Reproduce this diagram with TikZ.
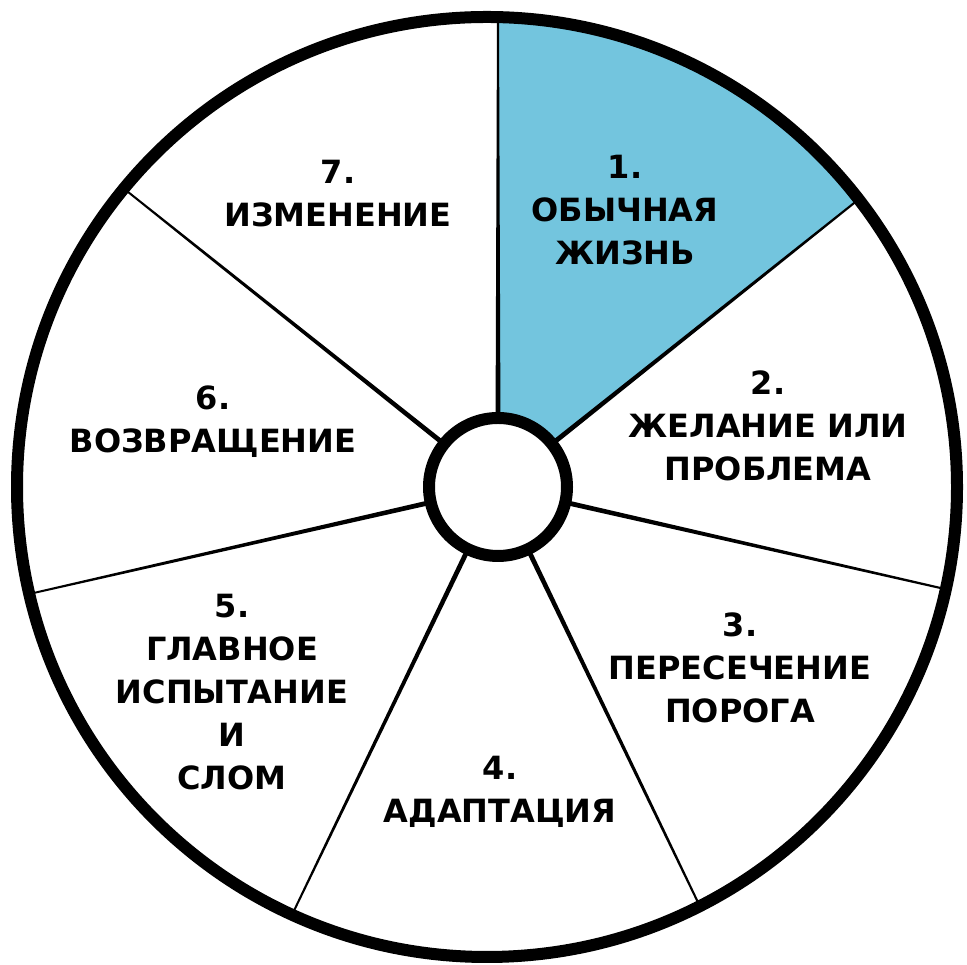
\documentclass[tikz,border=0pt]{standalone}
\usepackage{fontspec}
\setmainfont{DejaVu Sans}
\usetikzlibrary{positioning}
\definecolor{stageblue}{RGB}{115,197,222}

\begin{document}
\begin{tikzpicture}[
    x=1pt,y=1pt,
    stage/.style={align=center,font=\bfseries\fontsize{32}{43}\selectfont},
    hubring/.style={circle,draw,fill=white,line width=12pt,minimum size=138pt,inner sep=0pt},
    spoke/.style={fill=black},
    rimline/.style={line width=12pt}
  ]
    \useasboundingbox (0,0) rectangle (967,965);
    \coordinate (wheel) at (487,478);
    \coordinate (ctr) at (498,478);
    \foreach \i/\a in {1/90,2/38.57,3/-12.86,4/-64.29,5/-115.71,6/-167.14,7/141.43}
      \path (ctr) ++(\a:520) coordinate (rim\i);

    \begin{scope}
      \clip (wheel) circle[radius=470];
      \fill[stageblue] (ctr) -- (rim1) arc[start angle=90,end angle=38.57,radius=520] -- cycle;
      % tapered spokes, thick at the hub, thin at the rim
      \foreach \a in {90,38.57,-12.86,-64.29,-115.71,-167.14,141.43}
        \fill[spoke,shift={(ctr)}] (\a+2:70) -- (\a-2:70) -- (\a-0.09:520) -- (\a+0.09:520) -- cycle;
      \node[hubring] (hub) at (ctr) {};
    \end{scope}
    \draw[rimline] (wheel) circle[radius=470];

    \node[stage] (life) at (625,755) {1.\\ОБЫЧНАЯ\\ЖИЗНЬ};
    \node[stage] (wish) at (768,539) {2.\\ЖЕЛАНИЕ ИЛИ\\ПРОБЛЕМА};
    \node[stage] (gate) at (740,297) {3.\\ПЕРЕСЕЧЕНИЕ\\ПОРОГА};
    \node[stage] (adapt) at (500,173) {4.\\АДАПТАЦИЯ};
    \node[stage] (trial) at (232,273) {5.\\ГЛАВНОЕ\\ИСПЫТАНИЕ\\И\\СЛОМ};
    \node[stage] (back) at (213,543) {6.\\ВОЗВРАЩЕНИЕ};
    \node[stage] (change) at (338,771) {7.\\ИЗМЕНЕНИЕ};
\end{tikzpicture}
\end{document}
